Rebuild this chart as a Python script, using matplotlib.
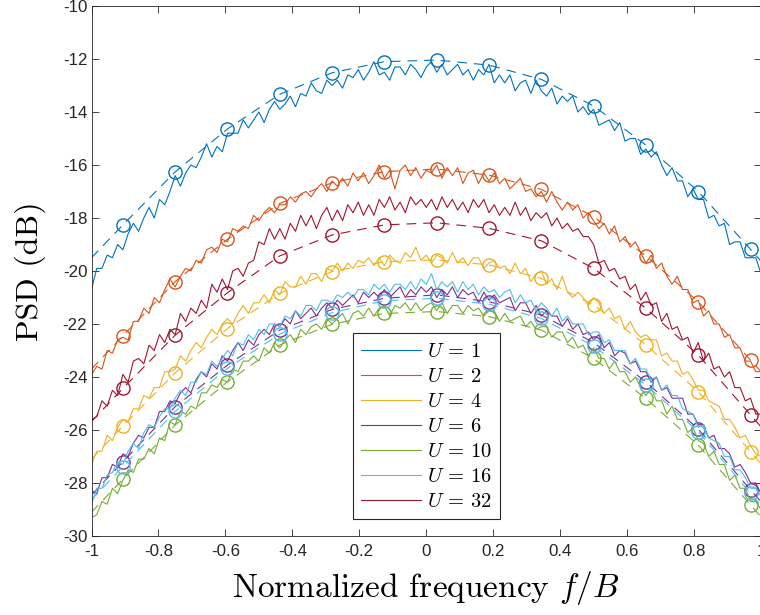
import numpy as np
import matplotlib
matplotlib.use("Agg")
import matplotlib.pyplot as plt
from matplotlib.ticker import FuncFormatter

plt.rcParams['mathtext.fontset'] = 'cm'
plt.rcParams['axes.unicode_minus'] = False
plt.rcParams['lines.scale_dashes'] = False

# ---------------------------------------------------------------- data
# frequency grid of the measured PSD (normalized to B)
freq = np.linspace(-1.0, 1.0, 129)

labels = [r'$U\,=\,1$', r'$U\,=\,2$', r'$U\,=\,4$', r'$U\,=\,6$',
          r'$U\,=\,10$', r'$U\,=\,16$', r'$U\,=\,32$']
colors = ['#0072BD', '#D95319', '#EDB120', '#7E2F8E',
          '#77AC30', '#4DBEEE', '#A2142F']

# measured PSD (dB)
psd_u1 = [
    -20.7, -19.9, -19.9, -19.4, -19.5, -19.0, -19.2, -18.6, -18.2, -18.5,
    -18.0, -17.6, -18.0, -17.3, -17.5, -17.0, -16.4, -16.8, -16.3, -16.0,
    -16.1, -15.7, -15.2, -15.7, -15.3, -15.5, -14.8, -14.8, -14.8, -14.3,
    -14.6, -14.3, -14.0, -14.4, -13.9, -13.6, -13.9, -13.7, -13.4, -13.8,
    -13.3, -13.4, -12.9, -13.2, -13.3, -12.8, -13.0, -12.8, -13.1, -12.6,
    -12.7, -12.4, -12.8, -12.5, -12.1, -12.6, -12.5, -12.8, -12.3, -12.3,
    -12.6, -12.2, -12.4, -12.7, -12.3, -12.1, -12.5, -12.2, -12.6, -12.4,
    -12.2, -12.6, -12.4, -12.8, -12.4, -12.6, -12.2, -12.9, -12.6, -12.9,
    -12.6, -13.2, -12.9, -12.8, -13.3, -12.8, -13.2, -13.4, -13.1, -13.7,
    -13.4, -13.6, -13.4, -14.0, -13.8, -14.1, -13.9, -14.5, -14.4, -14.3,
    -14.7, -14.4, -15.1, -15.0, -15.0, -15.6, -15.4, -15.7, -15.5, -16.0,
    -16.4, -16.1, -16.6, -16.6, -17.2, -16.9, -17.3, -17.3, -18.0, -17.9,
    -18.3, -18.2, -19.0, -18.9, -18.9, -19.5, -19.5, -19.5, -20.1]
psd_u2 = [
    -23.9, -23.6, -23.7, -23.0, -23.1, -22.6, -22.5, -22.6, -21.9, -21.9,
    -21.4, -21.6, -21.0, -21.2, -20.7, -20.3, -20.6, -20.2, -19.9, -20.0,
    -19.6, -19.7, -19.2, -19.1, -19.3, -18.8, -18.9, -18.4, -18.5, -18.3,
    -18.4, -17.9, -18.1, -17.8, -17.6, -17.8, -17.5, -17.5, -17.2, -17.4,
    -17.1, -17.0, -17.2, -16.9, -16.7, -17.0, -16.6, -16.8, -16.5, -16.8,
    -16.3, -16.6, -16.3, -16.7, -16.4, -16.0, -16.5, -16.2, -16.9, -16.2,
    -16.0, -16.4, -16.1, -16.5, -16.2, -16.3, -16.0, -16.5, -16.1, -16.4,
    -16.1, -16.7, -16.3, -16.2, -16.7, -16.3, -16.6, -16.3, -16.7, -16.5,
    -16.9, -16.7, -16.5, -17.0, -16.9, -17.2, -17.0, -17.4, -17.0, -17.4,
    -17.7, -17.4, -17.7, -17.5, -18.0, -17.8, -18.1, -18.4, -18.2, -18.6,
    -18.3, -18.9, -18.7, -19.1, -18.9, -19.3, -19.7, -19.4, -19.9, -19.7,
    -20.2, -20.5, -20.2, -20.7, -20.7, -21.2, -21.1, -21.7, -21.5, -22.0,
    -22.0, -22.5, -22.4, -22.9, -22.9, -23.4, -23.4, -23.8, -23.8]
psd_u4 = [
    -27.3, -26.8, -26.8, -26.2, -26.4, -25.9, -25.6, -25.7, -25.2, -25.2,
    -24.7, -24.8, -24.4, -24.4, -23.8, -23.8, -23.7, -23.2, -23.4, -23.0,
    -22.7, -22.9, -22.5, -22.2, -22.4, -22.0, -21.8, -22.0, -21.6, -21.3,
    -21.6, -21.2, -21.2, -20.9, -21.2, -20.7, -20.9, -20.4, -20.6, -20.6,
    -20.2, -20.5, -20.1, -20.1, -20.4, -19.9, -20.0, -19.7, -20.0, -19.7,
    -19.9, -19.6, -19.7, -19.5, -19.8, -19.5, -19.8, -19.4, -19.6, -19.7,
    -19.3, -19.5, -19.1, -19.6, -19.4, -19.7, -19.4, -19.5, -19.7, -19.3,
    -19.7, -19.5, -19.8, -19.5, -19.5, -19.9, -19.7, -19.6, -19.9, -19.8,
    -20.1, -19.7, -20.1, -19.9, -20.4, -20.1, -20.0, -20.5, -20.3, -20.7,
    -20.2, -20.8, -21.0, -20.8, -21.0, -21.3, -21.0, -21.2, -21.6, -21.4,
    -21.8, -21.7, -22.2, -21.9, -22.3, -22.5, -22.4, -22.6, -22.6, -23.2,
    -23.1, -23.4, -23.4, -23.9, -23.8, -24.1, -24.5, -24.5, -24.9, -25.0,
    -25.1, -25.6, -25.6, -25.9, -26.3, -26.2, -26.6, -26.9, -27.0]
psd_u6 = [
    -28.3, -28.4, -27.8, -27.8, -27.3, -27.4, -26.9, -27.0, -26.5, -26.2,
    -26.3, -25.9, -25.9, -25.3, -25.3, -24.9, -25.0, -24.6, -24.4, -24.6,
    -24.1, -23.8, -24.0, -23.5, -23.7, -23.2, -23.4, -23.0, -22.7, -23.0,
    -22.6, -22.8, -22.4, -22.2, -22.4, -22.0, -22.1, -21.8, -22.0, -21.5,
    -21.8, -21.6, -21.4, -21.7, -21.4, -21.2, -21.4, -21.1, -21.3, -21.1,
    -20.9, -21.2, -20.8, -21.0, -20.8, -21.0, -20.7, -21.0, -20.8, -20.6,
    -21.0, -20.7, -20.9, -20.6, -20.8, -20.6, -21.0, -20.7, -20.9, -20.6,
    -21.0, -20.7, -20.9, -20.8, -21.2, -20.8, -21.1, -20.9, -21.2, -21.1,
    -21.0, -21.5, -21.2, -21.2, -21.6, -21.3, -21.7, -21.5, -21.7, -21.7,
    -22.1, -21.8, -22.2, -22.0, -22.4, -22.3, -22.6, -22.4, -22.9, -22.7,
    -23.2, -23.0, -23.1, -23.5, -23.4, -23.8, -23.8, -24.2, -24.0, -24.5,
    -24.4, -24.8, -24.8, -24.8, -25.4, -25.4, -25.8, -25.8, -26.3, -26.2,
    -26.7, -26.7, -26.9, -27.4, -27.3, -27.6, -28.0, -28.0, -28.4]
psd_u10 = [
    -29.3, -29.2, -28.7, -28.8, -28.2, -28.4, -27.9, -27.5, -27.6, -27.1,
    -27.1, -26.7, -26.9, -26.3, -26.4, -25.7, -25.8, -25.3, -25.4, -25.1,
    -25.2, -24.6, -24.6, -24.3, -24.4, -24.1, -24.2, -23.7, -23.8, -23.4,
    -23.4, -23.2, -23.4, -22.9, -23.1, -22.7, -22.9, -22.6, -22.4, -22.7,
    -22.2, -22.4, -22.1, -22.0, -22.2, -21.8, -22.0, -21.8, -21.6, -22.0,
    -21.6, -21.5, -21.7, -21.4, -21.7, -21.4, -21.3, -21.7, -21.3, -21.4,
    -21.2, -21.5, -21.2, -21.5, -21.3, -21.2, -21.5, -21.2, -21.6, -21.3,
    -21.3, -21.6, -21.3, -21.5, -21.4, -21.7, -21.5, -21.5, -21.9, -21.6,
    -21.9, -21.8, -21.7, -22.1, -21.9, -22.2, -22.1, -22.1, -22.5, -22.3,
    -22.3, -22.7, -22.5, -22.9, -22.8, -23.2, -22.9, -23.3, -23.3, -23.7,
    -23.4, -23.8, -23.8, -24.2, -24.0, -24.4, -24.7, -24.4, -24.9, -24.9,
    -25.4, -25.1, -25.6, -25.6, -26.1, -25.9, -26.4, -26.5, -27.0, -26.8,
    -27.3, -27.3, -27.9, -27.7, -28.2, -28.2, -28.7, -28.7, -29.0]
psd_u16 = [
    -28.8, -28.2, -28.2, -27.7, -27.6, -27.2, -27.3, -26.8, -26.5, -26.7,
    -26.1, -25.8, -25.9, -25.5, -25.2, -25.2, -24.8, -24.5, -24.7, -24.2,
    -24.2, -23.8, -23.9, -23.4, -23.6, -23.3, -23.0, -23.2, -22.7, -22.8,
    -22.4, -22.6, -22.2, -22.4, -22.0, -22.0, -22.1, -21.7, -21.8, -21.5,
    -21.7, -21.3, -21.3, -21.5, -21.1, -21.1, -21.2, -20.9, -21.0, -20.8,
    -21.0, -20.7, -20.7, -20.9, -20.5, -20.7, -20.5, -20.8, -20.5, -20.5,
    -20.7, -20.4, -20.7, -20.3, -20.5, -20.1, -20.7, -20.4, -20.6, -20.4,
    -20.8, -20.4, -20.7, -20.5, -20.9, -20.6, -20.8, -20.7, -21.0, -20.8,
    -20.7, -21.2, -20.9, -21.2, -21.1, -21.5, -21.2, -21.4, -21.7, -21.4,
    -21.9, -21.7, -22.0, -22.0, -22.0, -22.4, -22.3, -22.3, -22.7, -22.6,
    -23.0, -23.0, -23.0, -23.5, -23.3, -23.7, -23.7, -24.1, -24.0, -24.5,
    -24.3, -24.7, -24.7, -25.2, -25.3, -25.4, -25.9, -25.8, -26.3, -26.4,
    -26.5, -27.0, -27.0, -27.5, -27.5, -27.8, -28.2, -28.2, -28.5]
psd_u32 = [
    -25.6, -25.5, -24.9, -25.1, -24.5, -24.7, -23.9, -24.2, -23.4, -23.3,
    -23.5, -22.8, -23.0, -22.4, -22.7, -22.2, -22.4, -21.6, -21.9, -21.4,
    -21.6, -21.1, -21.4, -20.5, -20.8, -20.3, -20.7, -20.0, -19.9, -20.2,
    -19.7, -19.6, -18.9, -19.0, -18.4, -18.8, -18.4, -18.8, -18.2, -18.5,
    -17.9, -18.3, -17.9, -18.4, -17.9, -17.6, -18.1, -17.7, -18.1, -17.5,
    -17.8, -17.4, -17.9, -17.5, -17.9, -17.3, -17.6, -17.2, -17.7, -17.4,
    -17.8, -17.2, -17.5, -17.3, -17.6, -17.3, -17.7, -17.2, -17.6, -17.3,
    -17.7, -17.4, -17.8, -17.3, -17.6, -17.3, -17.8, -17.5, -17.9, -17.6,
    -17.9, -17.4, -17.9, -17.6, -18.1, -17.8, -18.0, -17.8, -18.3, -18.0,
    -18.4, -18.2, -18.5, -18.4, -18.7, -18.7, -19.0, -19.7, -19.6, -20.0,
    -19.9, -20.3, -20.2, -20.7, -20.5, -21.1, -20.8, -21.3, -21.2, -21.9,
    -21.6, -22.2, -22.1, -22.6, -22.5, -23.1, -22.7, -23.4, -23.1, -23.7,
    -23.6, -24.0, -23.8, -24.4, -24.4, -24.9, -24.8, -25.4, -25.4]

# analytical PSD (dB), evaluated at the marker frequencies plus band edges
theory_freq = [-1.0, -0.90625, -0.75, -0.59375, -0.4375, -0.28125, -0.125,
               0.03125, 0.1875, 0.34375, 0.5, 0.65625, 0.8125, 0.96875, 1.0]
theory_u1 = [-19.5, -18.26, -16.26, -14.64, -13.33, -12.52, -12.10,
             -12.04, -12.23, -12.77, -13.77, -15.25, -17.00, -19.18, -19.63]
theory_u2 = [-23.7, -22.45, -20.40, -18.80, -17.45, -16.67, -16.25,
             -16.15, -16.38, -16.92, -17.95, -19.43, -21.16, -23.36, -23.80]
theory_u4 = [-27.1, -25.85, -23.84, -22.17, -20.84, -20.02, -19.65,
             -19.58, -19.77, -20.28, -21.28, -22.79, -24.55, -26.82, -27.27]
theory_u6 = [-28.45, -27.20, -25.12, -23.55, -22.23, -21.45, -21.03,
             -20.90, -21.16, -21.66, -22.70, -24.18, -25.97, -28.26, -28.70]
theory_u10 = [-29.1, -27.86, -25.81, -24.18, -22.79, -22.01, -21.60,
              -21.53, -21.72, -22.23, -23.30, -24.81, -26.57, -28.83, -29.28]
theory_u16 = [-28.63, -27.38, -25.30, -23.67, -22.38, -21.57, -21.12,
              -21.03, -21.25, -21.79, -22.83, -24.30, -26.06, -28.39, -28.84]
theory_u32 = [-25.68, -24.43, -22.42, -20.82, -19.43, -18.64, -18.26,
              -18.18, -18.39, -18.86, -19.90, -21.41, -23.17, -25.43, -25.88]

measured = [psd_u1, psd_u2, psd_u4, psd_u6, psd_u10, psd_u16, psd_u32]
theory = [theory_u1, theory_u2, theory_u4, theory_u6, theory_u10,
          theory_u16, theory_u32]

x_ticks = [-1, -0.8, -0.6, -0.4, -0.2, 0, 0.2, 0.4, 0.6, 0.8, 1]
y_ticks = [-30, -28, -26, -24, -22, -20, -18, -16, -14, -12, -10]

# ---------------------------------------------------------------- figure
fig = plt.figure(figsize=(7.6, 6.15), dpi=100)
ax = fig.add_axes([91.5 / 760, 79 / 615, 669.5 / 760, 530 / 615])

handles = []
for y_meas, y_th, col, lab in zip(measured, theory, colors, labels):
    h, = ax.plot(freq, y_meas, color=col, lw=0.8, label=lab)
    handles.append(h)
    ax.plot(theory_freq, y_th, color=col, lw=0.8, linestyle=(0, (7, 5)),
            marker='o', markersize=9.5, markerfacecolor='none',
            markeredgewidth=1.0, markevery=slice(1, len(theory_freq) - 1))

ax.set_xlim(-1, 1)
ax.set_ylim(-30, -10)
ax.set_xticks(x_ticks)
ax.set_yticks(y_ticks)
ax.xaxis.set_major_formatter(FuncFormatter(lambda v, p: '%g' % v))
ax.yaxis.set_major_formatter(FuncFormatter(lambda v, p: '%g' % v))

dark = (0.15, 0.15, 0.15)
for s in ax.spines.values():
    s.set_color(dark)
    s.set_linewidth(0.6)
ax.tick_params(axis='both', which='both', direction='in', length=5,
               width=0.6, color=dark, labelcolor=dark, labelsize=12.2,
               top=True, right=True)
ax.tick_params(axis='x', pad=6)
ax.tick_params(axis='y', pad=3)
for t in ax.get_xticklabels() + ax.get_yticklabels():
    t.set_fontfamily(['Liberation Sans', 'DejaVu Sans'])

ax.set_xlabel('Normalized frequency $f/B$', fontsize=24,
              fontfamily='cmr10', labelpad=7)
ax.set_ylabel('PSD (dB)', fontsize=23, fontfamily='cmr10', labelpad=12)

leg = ax.legend(handles=handles, loc='lower center',
                bbox_to_anchor=(0.5, 0.0315), borderaxespad=0,
                fontsize=14.8, handlelength=2.9, handletextpad=0.3,
                labelspacing=0.24, borderpad=0.4, fancybox=False,
                framealpha=1, edgecolor=dark)
leg.get_frame().set_linewidth(0.8)

fig.savefig('out.png', dpi=100)
